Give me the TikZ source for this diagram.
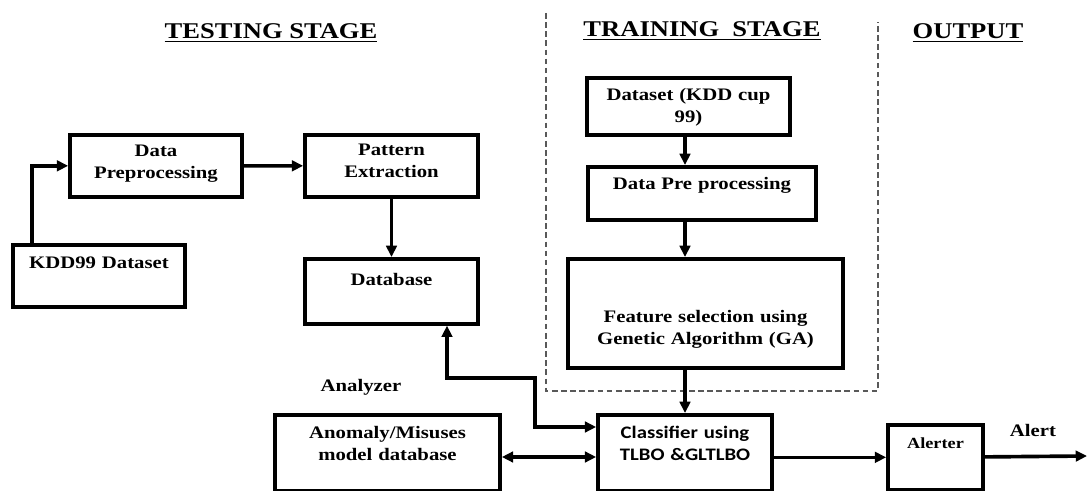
\documentclass[tikz,border=0pt]{standalone}
\usepackage{fontspec}
\setmainfont{Liberation Serif}[FakeStretch=1.18]
\newfontfamily\calibrifont{Carlito}[FakeStretch=1.18]
\usetikzlibrary{arrows.meta}
\begin{document}
\begin{tikzpicture}[x=0.025cm,y=-0.025cm,
  box/.style={draw,line width=2.6pt,anchor=north,inner sep=0pt,align=center,font=\fontsize{12.5}{15.6}\selectfont\bfseries},
  arr/.style={line width=2.6pt,-{Triangle[length=8pt,width=7.5pt]}},
  both/.style={line width=2.6pt,{Triangle[length=8pt,width=7.5pt]}-{Triangle[length=8pt,width=7.5pt]}},
  head/.style={font=\fontsize{16}{19}\selectfont\bfseries},
  lbl/.style={font=\fontsize{12.5}{15}\selectfont\bfseries}]
\useasboundingbox (0,0) rectangle (1087,491);
\node[head](test) at (271,33){\underline{TESTING STAGE}};
\node[head](train) at (702,31){\underline{TRAINING\ \ STAGE}};
\node[head](output) at (968,33){\underline{OUTPUT}};
\draw[black!65,line width=.8pt,dash pattern=on 4pt off 2.5pt](546,13)--(546,391)--(878,391)--(878,22);
\node[box,text width=4.3cm,text height=.55cm,text depth=1cm](dp) at (156,133){Data\\Preprocessing};
\node[box,text width=4.325cm,text height=.525cm,text depth=1.025cm](pe) at (391.5,133){Pattern\\Extraction};
\node[box,text width=4.3cm,text height=.6cm,text depth=.95cm](kdd) at (99,243){KDD99 Dataset};
\node[box,text width=4.325cm,text height=.675cm,text depth=.95cm](db) at (391.5,257){Database};
\node[box,text width=5.075cm,text height=.575cm,text depth=.85cm](ds) at (688.5,76){Dataset (KDD cup\\99)};
\node[box,text width=5.7cm,text height=.575cm,text depth=.75cm](pre) at (702,165){Data Pre processing};
\node[box,text width=6.875cm,text height=1.6cm,text depth=1.125cm](fs) at (705.5,257){Feature selection using\\Genetic Algorithm (GA)};
\node[box,text width=5.625cm,text height=.6cm,text depth=1.3cm](anom) at (387.5,413){Anomaly/Misuses\\model database};
\node[box,text width=4.35cm,text height=.6cm,text depth=1.3cm,font=\fontsize{12.5}{15.6}\selectfont\calibrifont\bfseries](cls) at (685,413){Classifier using\\TLBO \&GLTLBO};
\node[box,text width=2.375cm,text height=.6cm,text depth=1.025cm,font=\fontsize{11}{13}\selectfont\bfseries](alr) at (935.5,423){Alerter};
\node[lbl](analyzer) at (361,387){Analyzer};
\node[lbl](alert) at (1033,430){Alert};
\coordinate(out) at (1087,456);
\draw[arr](kdd.north -| 32,0) |- (dp);
\draw[arr](dp)--(pe);
\draw[arr](pe)--(db);
\draw[arr](ds.south -| cls)--(pre.north -| cls);
\draw[arr](pre.south -| cls)--(fs.north -| cls);
\draw[arr](fs.south -| cls)--(cls);
\draw[both](db.south -| 447,0) |- (535,378) |- (cls.west |- 0,427);
\draw[both](anom.east |- 0,457)--(cls.west |- 0,457);
\draw[arr](cls.east |- alr)--(alr);
\draw[arr](alr)--(out);
\end{tikzpicture}
\end{document}
